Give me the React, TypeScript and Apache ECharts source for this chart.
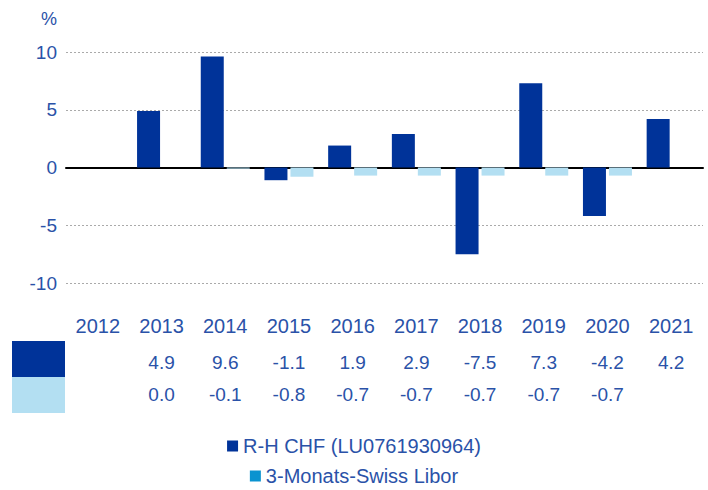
import React, { useEffect, useRef } from "react";
import * as echarts from "echarts";

const years = ["2012", "2013", "2014", "2015", "2016", "2017", "2018", "2019", "2020", "2021"];
const fund: (number | null)[] = [null, 4.9, 9.6, -1.1, 1.9, 2.9, -7.5, 7.3, -4.2, 4.2];
const libor: (number | null)[] = [null, 0.0, -0.1, -0.8, -0.7, -0.7, -0.7, -0.7, -0.7, null];
const yTicks = [-10, -5, 0, 5, 10];
const fundName = "R-H CHF (LU0761930964)";
const liborName = "3-Monats-Swiss Libor";

const DARK = "#003399";
const LIGHT = "#b3dff2";
const LEGEND_LIGHT = "#0a93d0";
const TEXT = "#2a52a8";
const FONT = "'Liberation Sans', Arial, sans-serif";

const fmt = (v: number | null) => (v == null ? "" : v.toFixed(1));

export default function App() {
  const ref = useRef<HTMLDivElement>(null);
  useEffect(() => {
    if (!ref.current) return;
    const chart = echarts.init(ref.current, undefined, { renderer: "svg" });
    const tableAxis = (data: string[], margin: number, size: number) => ({
      type: "category",
      data,
      position: "bottom",
      gridIndex: 0,
      axisLine: { show: false, onZero: false },
      axisTick: { show: false },
      splitLine: { show: false },
      axisLabel: { show: true, margin, color: TEXT, fontSize: size, fontFamily: FONT, interval: 0 },
    });
    chart.setOption({
      animation: false,
      textStyle: { fontFamily: FONT },
      grid: { left: 66, right: 5, top: 52, bottom: 207, containLabel: false },
      legend: [
        {
          top: 434,
          left: "center",
          icon: "rect",
          itemWidth: 11,
          itemHeight: 11,
          itemGap: 10,
          padding: [2, 5, 2, 5],
          textStyle: { color: TEXT, fontSize: 20, fontFamily: FONT },
          data: [{ name: fundName, itemStyle: { color: DARK } }],
          selectedMode: false,
        },
        {
          top: 464,
          left: "center",
          icon: "rect",
          itemWidth: 11,
          itemHeight: 11,
          padding: [2, 5, 2, 5],
          textStyle: { color: TEXT, fontSize: 20, fontFamily: FONT },
          data: [{ name: liborName, itemStyle: { color: LEGEND_LIGHT } }],
          selectedMode: false,
        },
      ],
      xAxis: [
        {
          type: "category",
          data: years,
          axisLine: { show: true, onZero: true, lineStyle: { color: "#000", width: 2 } },
          axisTick: { show: false },
          axisLabel: { show: false },
          splitLine: { show: false },
        },
        tableAxis(years, 33, 20),
        tableAxis(fund.map(fmt), 70, 19),
        tableAxis(libor.map(fmt), 102, 19),
      ],
      yAxis: {
        type: "value",
        min: yTicks[0],
        max: yTicks[yTicks.length - 1],
        interval: 5,
        name: "%",
        nameLocation: "end",
        nameGap: 24,
        nameTextStyle: { color: TEXT, fontSize: 18, fontFamily: FONT, align: "right", padding: [0, 9, 0, 0] },
        axisLine: { show: false },
        axisTick: { show: false },
        axisLabel: { color: TEXT, fontSize: 19, fontFamily: FONT, margin: 9 },
        splitLine: { show: true, lineStyle: { color: "#aaaaaa", type: [2, 2], width: 1 } },
      },
      series: [
        {
          name: fundName,
          type: "bar",
          xAxisIndex: 0,
          data: fund,
          barWidth: 23,
          barGap: "13%",
          itemStyle: { color: DARK },
          z: 3,
        },
        {
          name: liborName,
          type: "bar",
          xAxisIndex: 0,
          data: libor,
          barWidth: 23,
          barGap: "13%",
          itemStyle: { color: LIGHT },
          z: 3,
        },
      ],
      graphic: [
        { type: "rect", left: 12, top: 341, shape: { width: 53, height: 36 }, style: { fill: DARK } },
        { type: "rect", left: 12, top: 377, shape: { width: 53, height: 36 }, style: { fill: LIGHT } },
      ],
    });
    return () => chart.dispose();
  }, []);
  return <div ref={ref} style={{ width: 708, height: 490, position: "absolute", left: 0, top: 0 }} />;
}
